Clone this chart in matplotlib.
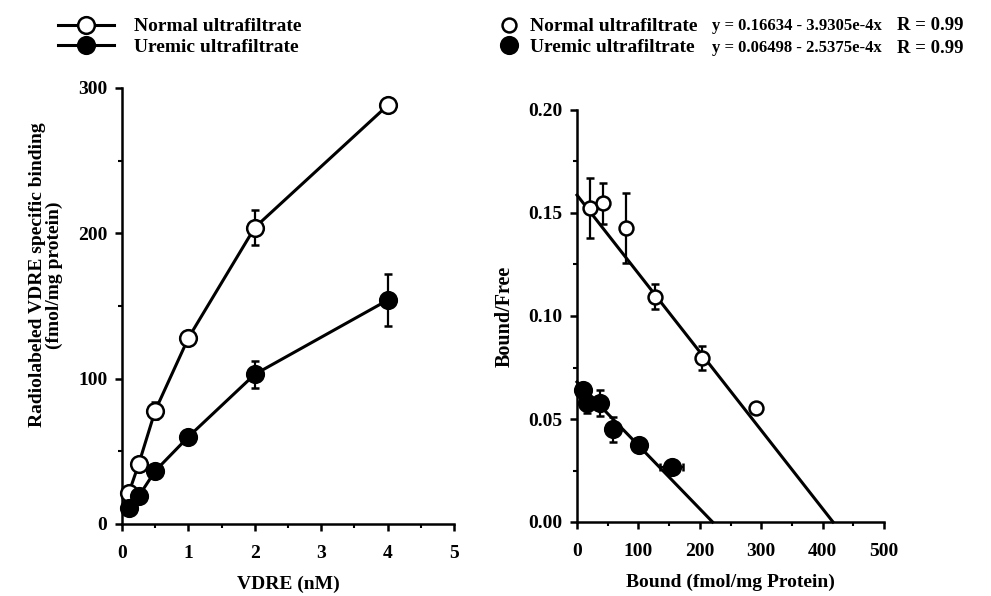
import matplotlib
matplotlib.use("Agg")
import matplotlib.pyplot as plt
import numpy as np
from matplotlib.ticker import MultipleLocator, FormatStrFormatter

plt.rcParams["font.family"] = ["Liberation Serif", "DejaVu Serif"]
plt.rcParams["font.weight"] = "bold"
plt.rcParams["font.size"] = 14

# saturation curve: VDRE concentration vs specific binding
vdre_nm = [0.1, 0.25, 0.5, 1, 2, 4]
normal_binding = [21, 41, 78, 128, 204, 288]
normal_binding_err = [3, 3, 6, 3, 12, 3]
uremic_binding = [11, 19, 36.5, 60, 103, 154]
uremic_binding_err = [2, 3, 3, 4, 9.5, 18]

# Scatchard plot: bound vs bound/free
normal_bound = [21, 43, 79, 127, 204, 291]
normal_bf = [0.1523, 0.1547, 0.1429, 0.1094, 0.0798, 0.0555]
normal_bf_err = [0.0145, 0.010, 0.017, 0.006, 0.0058, 0.002]
uremic_bound = [9, 16, 37.5, 58, 101.5, 154]
uremic_bf = [0.0641, 0.0579, 0.0579, 0.045, 0.0374, 0.0265]
uremic_bf_err = [0.002, 0.005, 0.0063, 0.006, 0.002, 0.003]
uremic_bound_err = [0, 0, 0, 0, 0, 19]

# regression lines as drawn (intercept, slope)
normal_fit = (0.1587, -3.806e-4)
uremic_fit = (0.0680, -3.08e-4)

series_labels = ["Normal ultrafiltrate", "Uremic ultrafiltrate"]
equations = ["y = 0.16634 - 3.9305e-4x", "y = 0.06498 - 2.5375e-4x"]
r_values = ["R = 0.99", "R = 0.99"]

W, H = 991, 596
fig = plt.figure(figsize=(W / 100, H / 100), dpi=100)


def px_axes(x0, y0, x1, y1):
    return fig.add_axes([x0 / W, 1 - y1 / H, (x1 - x0) / W, (y1 - y0) / H])


def style_axes(ax):
    for side in ("top", "right"):
        ax.spines[side].set_visible(False)
    for side in ("left", "bottom"):
        ax.spines[side].set_linewidth(1.8)
    ax.tick_params(which="major", direction="out", length=5, width=1.8, labelsize=14)
    ax.tick_params(axis="x", which="major", pad=10)
    ax.tick_params(axis="y", which="major", pad=5.5)
    ax.tick_params(which="minor", direction="out", length=3, width=1.5)
    for lab in ax.get_xticklabels() + ax.get_yticklabels():
        lab.set_fontweight("bold")


line_kw = dict(color="black", lw=2.2, ms=12, mew=1.8, capsize=3, elinewidth=1.6,
               capthick=1.6, clip_on=False)

ax1 = px_axes(122, 88, 454, 524)
h_norm = ax1.errorbar(vdre_nm, normal_binding, yerr=normal_binding_err, fmt="-o",
                      mfc="white", mec="black", zorder=3, **line_kw)
h_urem = ax1.errorbar(vdre_nm, uremic_binding, yerr=uremic_binding_err, fmt="-o",
                      mfc="black", mec="black", zorder=4, **line_kw)
ax1.set_xlim(0, 5)
ax1.set_ylim(0, 300)
ax1.xaxis.set_major_locator(MultipleLocator(1))
ax1.xaxis.set_minor_locator(MultipleLocator(0.5))
ax1.yaxis.set_major_locator(MultipleLocator(100))
ax1.yaxis.set_minor_locator(MultipleLocator(50))
style_axes(ax1)
ax1.set_xlabel("VDRE (nM)", fontsize=14, fontweight="bold", labelpad=10)
ax1.set_ylabel("Radiolabeled VDRE specific binding\n(fmol/mg protein)", fontsize=14,
               fontweight="bold", linespacing=1.0)
ax1.yaxis.set_label_coords(-0.178, 0.571)

ax2 = px_axes(577, 110, 884, 522)
for (b0, slope) in (normal_fit, uremic_fit):
    xs = np.array([0, -b0 / slope])
    ax2.plot(xs, b0 + slope * xs, color="black", lw=2.2, clip_on=False, zorder=2)
pt_kw = dict(fmt="o", color="black", capsize=3, elinewidth=1.6, capthick=1.6,
             clip_on=False, mew=1.8)
h2_norm = ax2.errorbar(normal_bound, normal_bf, yerr=normal_bf_err, ms=10,
                       mfc="white", mec="black", zorder=3, **pt_kw)
h2_urem = ax2.errorbar(uremic_bound, uremic_bf, yerr=uremic_bf_err, xerr=uremic_bound_err,
                       ms=12, mfc="black", mec="black", zorder=3, **pt_kw)
ax2.set_xlim(0, 500)
ax2.set_ylim(0, 0.2)
ax2.xaxis.set_major_locator(MultipleLocator(100))
ax2.xaxis.set_minor_locator(MultipleLocator(50))
ax2.yaxis.set_major_locator(MultipleLocator(0.05))
ax2.yaxis.set_minor_locator(MultipleLocator(0.025))
ax2.yaxis.set_major_formatter(FormatStrFormatter("%.2f"))
style_axes(ax2)
ax2.set_xlabel("Bound (fmol/mg Protein)", fontsize=14, fontweight="bold", labelpad=10)
ax2.set_ylabel("Bound/Free", fontsize=14.5, fontweight="bold", labelpad=10)

# legends
fig.legend([h_norm.lines[0], h_urem.lines[0]], series_labels, loc="upper left",
           bbox_to_anchor=(48 / W, 1 - 8 / H), frameon=False, handlelength=2.9,
           handletextpad=1.0, labelspacing=0.15, borderpad=0,
           prop={"weight": "bold", "size": 14})
fig.legend([h2_norm.lines[0], h2_urem.lines[0]], series_labels, loc="upper left",
           bbox_to_anchor=(491 / W, 1 - 8 / H), frameon=False, handlelength=0.9,
           handletextpad=0.6, labelspacing=0.15, borderpad=0,
           prop={"weight": "bold", "size": 14})
for i, (eq, r) in enumerate(zip(equations, r_values)):
    y = 1 - (25.5 + 23 * i) / H
    fig.text(712 / W, y, eq, fontsize=12, fontweight="bold", va="center")
    fig.text(897 / W, y, r, fontsize=13.5, fontweight="bold", va="center")

fig.savefig("out.png", dpi=100)
